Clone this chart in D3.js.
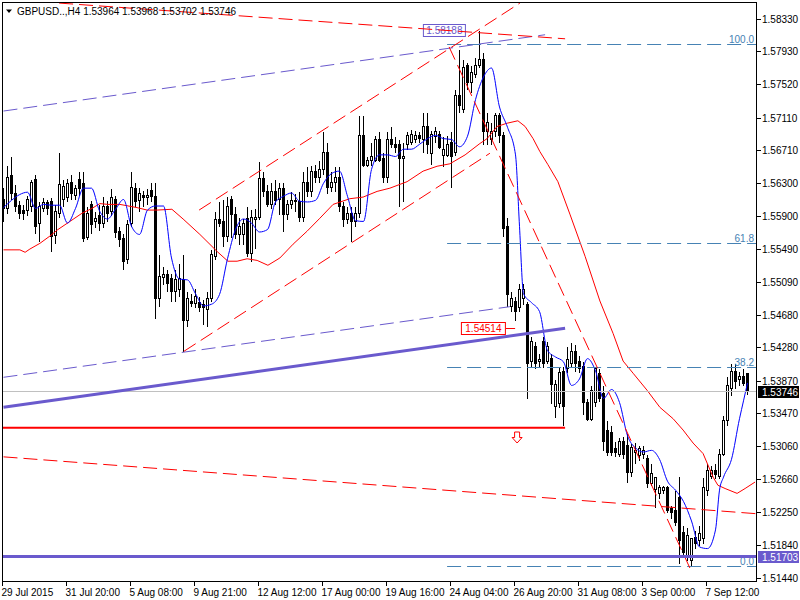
<!DOCTYPE html>
<html><head><meta charset="utf-8">
<script src="https://cdnjs.cloudflare.com/ajax/libs/d3/7.8.5/d3.min.js"></script>
<style>body{margin:0;background:#fff}svg{display:block}text{font-family:"Liberation Sans",Arial,sans-serif}</style>
</head><body><svg id="c" width="800" height="600"></svg>
<script>
const symbolTitle = "GBPUSD..,H4";
const quote = ["1.53964", "1.53968", "1.53702", "1.53746"];
const timeLabels = ["29 Jul 2015","31 Jul 20:00","5 Aug 08:00","9 Aug 21:00","12 Aug 12:00","17 Aug 00:00","19 Aug 16:00","24 Aug 04:00","26 Aug 20:00","31 Aug 08:00","3 Sep 00:00","7 Sep 12:00"];
const timeTickBars = [0,16,32,48,64,80,96,112,128,144,160,176];
const priceTicks = [1.58330,1.57930,1.57520,1.57110,1.56710,1.56300,1.55900,1.55490,1.55090,1.54680,1.54280,1.53870,1.53470,1.53060,1.52660,1.52250,1.51840,1.51440];
// H4 bars: [open, high, low, close]
const ohlc = [
[1.5611,1.5626,1.5583,1.5599],[1.5599,1.5653,1.5593,1.5638],[1.5640,1.5663,1.5611,1.5618],[1.5618,1.5629,1.5596,1.5602],[1.5603,1.5610,1.5587,1.5594],
[1.5597,1.5604,1.5586,1.5594],[1.5597,1.5616,1.5591,1.5611],[1.5602,1.5635,1.5596,1.5632],[1.5635,1.5641,1.5569,1.5577],[1.5581,1.5608,1.5559,1.5602],
[1.5600,1.5613,1.5596,1.5607],[1.5607,1.5611,1.5592,1.5599],[1.5608,1.5613,1.5546,1.5565],[1.5566,1.5604,1.5556,1.5596],[1.5594,1.5669,1.5589,1.5629],
[1.5611,1.5635,1.5602,1.5627],[1.5613,1.5637,1.5608,1.5630],[1.5632,1.5642,1.5611,1.5618],[1.5616,1.5629,1.5611,1.5624],[1.5635,1.5645,1.5616,1.5624],
[1.5630,1.5645,1.5559,1.5562],[1.5564,1.5602,1.5561,1.5593],[1.5605,1.5610,1.5569,1.5580],[1.5583,1.5596,1.5576,1.5587],[1.5591,1.5604,1.5573,1.5581],
[1.5581,1.5614,1.5576,1.5602],[1.5602,1.5610,1.5583,1.5593],[1.5596,1.5624,1.5591,1.5613],[1.5611,1.5616,1.5564,1.5570],[1.5571,1.5577,1.5553,1.5561],
[1.5562,1.5569,1.5524,1.5534],[1.5537,1.5586,1.5532,1.5580],[1.5581,1.5645,1.5577,1.5626],[1.5624,1.5632,1.5602,1.5608],[1.5610,1.5626,1.5596,1.5618],
[1.5616,1.5622,1.5602,1.5613],[1.5613,1.5624,1.5605,1.5616],[1.5622,1.5632,1.5608,1.5614],[1.5614,1.5632,1.5464,1.5489],[1.5489,1.5543,1.5479,1.5516],
[1.5515,1.5528,1.5506,1.5518],[1.5518,1.5524,1.5497,1.5507],[1.5513,1.5519,1.5485,1.5497],[1.5497,1.5524,1.5485,1.5512],[1.5500,1.5532,1.5491,1.5513],
[1.5512,1.5543,1.5424,1.5461],[1.5461,1.5497,1.5454,1.5489],[1.5485,1.5495,1.5479,1.5483],[1.5483,1.5501,1.5477,1.5491],[1.5484,1.5491,1.5473,1.5477],
[1.5481,1.5488,1.5457,1.5477],[1.5475,1.5497,1.5454,1.5489],[1.5489,1.5549,1.5485,1.5543],[1.5540,1.5596,1.5537,1.5586],[1.5586,1.5608,1.5577,1.5581],
[1.5583,1.5611,1.5553,1.5565],[1.5565,1.5614,1.5559,1.5602],[1.5611,1.5616,1.5564,1.5592],[1.5592,1.5602,1.5562,1.5567],[1.5567,1.5589,1.5555,1.5577],
[1.5567,1.5587,1.5555,1.5581],[1.5587,1.5602,1.5540,1.5544],[1.5544,1.5598,1.5534,1.5589],[1.5586,1.5599,1.5550,1.5589],[1.5589,1.5657,1.5586,1.5636],
[1.5636,1.5645,1.5614,1.5620],[1.5620,1.5629,1.5602,1.5605],[1.5605,1.5632,1.5599,1.5620],[1.5620,1.5635,1.5605,1.5610],[1.5611,1.5632,1.5592,1.5624],
[1.5624,1.5632,1.5571,1.5592],[1.5592,1.5611,1.5586,1.5604],[1.5604,1.5620,1.5600,1.5610],[1.5610,1.5618,1.5596,1.5608],[1.5608,1.5620,1.5583,1.5589],
[1.5589,1.5645,1.5583,1.5632],[1.5632,1.5651,1.5614,1.5620],[1.5620,1.5653,1.5614,1.5645],[1.5645,1.5654,1.5632,1.5638],[1.5638,1.5659,1.5632,1.5647],
[1.5647,1.5694,1.5642,1.5669],[1.5669,1.5681,1.5618,1.5626],[1.5626,1.5645,1.5620,1.5632],[1.5632,1.5651,1.5620,1.5638],[1.5638,1.5651,1.5596,1.5602],
[1.5602,1.5608,1.5577,1.5586],[1.5586,1.5602,1.5581,1.5593],[1.5593,1.5602,1.5559,1.5583],[1.5583,1.5602,1.5577,1.5593],[1.5593,1.5714,1.5589,1.5690],
[1.5690,1.5714,1.5651,1.5653],[1.5653,1.5663,1.5651,1.5659],[1.5659,1.5681,1.5653,1.5663],[1.5659,1.5690,1.5657,1.5684],[1.5684,1.5694,1.5657,1.5659],
[1.5661,1.5669,1.5632,1.5638],[1.5638,1.5694,1.5632,1.5684],[1.5685,1.5700,1.5675,1.5679],[1.5679,1.5688,1.5669,1.5675],[1.5678,1.5685,1.5602,1.5661],
[1.5661,1.5681,1.5608,1.5663],[1.5678,1.5694,1.5672,1.5690],[1.5681,1.5697,1.5678,1.5691],[1.5685,1.5696,1.5681,1.5689],[1.5689,1.5694,1.5681,1.5686],
[1.5685,1.5718,1.5669,1.5700],[1.5700,1.5718,1.5667,1.5679],[1.5667,1.5696,1.5654,1.5691],[1.5688,1.5700,1.5681,1.5694],[1.5691,1.5696,1.5673,1.5675],
[1.5665,1.5688,1.5651,1.5672],[1.5665,1.5690,1.5663,1.5679],[1.5681,1.5694,1.5626,1.5663],[1.5669,1.5746,1.5665,1.5739],[1.5739,1.5796,1.5718,1.5727],
[1.5721,1.5783,1.5718,1.5773],[1.5776,1.5780,1.5746,1.5755],[1.5755,1.5776,1.5743,1.5767],[1.5765,1.5786,1.5761,1.5776],[1.5776,1.5819,1.5773,1.5783],
[1.5783,1.5792,1.5678,1.5694],[1.5694,1.5718,1.5678,1.5706],[1.5685,1.5706,1.5678,1.5694],[1.5694,1.5718,1.5688,1.5714],[1.5714,1.5718,1.5681,1.5690],
[1.5690,1.5694,1.5565,1.5575],[1.5577,1.5589,1.5479,1.5494],[1.5479,1.5497,1.5473,1.5489],[1.5485,1.5491,1.5461,1.5473],[1.5477,1.5507,1.5473,1.5500],
[1.5489,1.5507,1.5481,1.5500],[1.5481,1.5485,1.5366,1.5408],[1.5411,1.5442,1.5405,1.5436],[1.5430,1.5436,1.5402,1.5408],[1.5411,1.5421,1.5405,1.5414],
[1.5436,1.5442,1.5404,1.5408],[1.5411,1.5436,1.5409,1.5430],[1.5415,1.5421,1.5359,1.5383],[1.5356,1.5389,1.5342,1.5383],[1.5359,1.5404,1.5354,1.5397],
[1.5399,1.5405,1.5332,1.5356],[1.5402,1.5430,1.5397,1.5414],[1.5409,1.5434,1.5405,1.5424],[1.5424,1.5432,1.5399,1.5409],[1.5411,1.5418,1.5397,1.5403],
[1.5405,1.5411,1.5346,1.5360],[1.5360,1.5365,1.5338,1.5340],[1.5340,1.5381,1.5338,1.5375],[1.5360,1.5405,1.5356,1.5403],[1.5396,1.5403,1.5362,1.5366],
[1.5372,1.5381,1.5301,1.5313],[1.5326,1.5338,1.5295,1.5299],[1.5323,1.5332,1.5295,1.5299],[1.5304,1.5313,1.5294,1.5299],[1.5297,1.5317,1.5294,1.5313],
[1.5313,1.5319,1.5291,1.5297],[1.5307,1.5322,1.5262,1.5274],[1.5274,1.5310,1.5270,1.5305],[1.5299,1.5311,1.5285,1.5302],[1.5295,1.5307,1.5289,1.5304],
[1.5297,1.5307,1.5291,1.5301],[1.5292,1.5297,1.5256,1.5261],[1.5261,1.5285,1.5258,1.5273],[1.5254,1.5270,1.5231,1.5268],[1.5248,1.5259,1.5242,1.5256],
[1.5252,1.5258,1.5248,1.5256],[1.5256,1.5258,1.5225,1.5227],[1.5230,1.5234,1.5218,1.5225],[1.5227,1.5252,1.5209,1.5213],[1.5243,1.5270,1.5162,1.5191],
[1.5200,1.5209,1.5170,1.5176],[1.5170,1.5207,1.5166,1.5197],[1.5166,1.5193,1.5158,1.5193],[1.5194,1.5203,1.5181,1.5187],[1.5191,1.5209,1.5184,1.5199],
[1.5193,1.5268,1.5187,1.5256],[1.5252,1.5286,1.5246,1.5277],[1.5270,1.5283,1.5267,1.5277],[1.5277,1.5286,1.5267,1.5272],[1.5270,1.5304,1.5267,1.5297],
[1.5297,1.5344,1.5295,1.5338],[1.5338,1.5393,1.5332,1.5381],[1.5378,1.5409,1.5369,1.5399],[1.5399,1.5408,1.5378,1.5387],[1.5389,1.5399,1.5381,1.5393],
[1.5393,1.5402,1.5381,1.5384],[1.53964,1.53968,1.53702,1.53746]
];
// fast moving average (blue): [bar, price]
const fastMA = [[0,1.5600],[2,1.5609],[4,1.5616],[6,1.5619],[8,1.5599],[10,1.5604],[12,1.5603],[14,1.5603],[16,1.5581],[18,1.5599],[20,1.5624],[22,1.5624],[24,1.5596],[26,1.5586],[28,1.5598],[30,1.5610],[32,1.5577],[34,1.5567],[36,1.5597],[38,1.5602],[40,1.5602],[42,1.5538],[44,1.5512],[46,1.5511],[48,1.5494],[50,1.5479],[52,1.5481],[54,1.5493],[56,1.5537],[58,1.5573],[60,1.5586],[62,1.5581],[64,1.5570],[66,1.5573],[68,1.5607],[70,1.5614],[72,1.5618],[74,1.5608],[76,1.5607],[78,1.5609],[80,1.5630],[82,1.5642],[84,1.5645],[86,1.5614],[88,1.5584],[90,1.5583],[92,1.5647],[94,1.5665],[96,1.5665],[98,1.5663],[100,1.5672],[102,1.5672],[104,1.5678],[106,1.5685],[108,1.5689],[110,1.5685],[112,1.5684],[114,1.5675],[116,1.5688],[118,1.5733],[120,1.5761],[122,1.5772],[124,1.5724],[126,1.5699],[128,1.5665],[129,1.5577],[130,1.5494],[132,1.5483],[134,1.5472],[136,1.5424],[138,1.5416],[140,1.5410],[142,1.5381],[144,1.5389],[146,1.5414],[148,1.5399],[150,1.5365],[152,1.5376],[154,1.5360],[156,1.5319],[158,1.5304],[160,1.5299],[162,1.5301],[164,1.5290],[166,1.5263],[168,1.5252],[170,1.5238],[172,1.5214],[174,1.5182],[176,1.5180],[178,1.5203],[179,1.5252],[180,1.5268],[182,1.5290],[184,1.5340],[185,1.5362],[186,1.5384]];
// slow moving average (red): [bar, price]
const slowMA = [[0,1.5548],[4.1,1.5548],[5.4,1.5545],[6.6,1.5549],[9.1,1.5556],[11.6,1.5565],[13.6,1.5573],[16.6,1.5583],[19.6,1.5593],[22.1,1.5599],[24.1,1.5605],[26.1,1.5604],[29.1,1.5604],[33.4,1.5600],[35.9,1.5597],[38.4,1.5597],[42.1,1.5598],[44.9,1.5586],[49.1,1.5567],[53.4,1.5546],[56.1,1.5534],[58.4,1.5534],[60.9,1.5537],[63.4,1.5535],[66.1,1.5529],[69.1,1.5538],[72.4,1.5555],[75.9,1.5571],[79.1,1.5587],[82.4,1.5604],[86.6,1.5611],[89.9,1.5613],[93.4,1.5620],[96.6,1.5624],[100.9,1.5632],[104.9,1.5645],[108.4,1.5651],[111.6,1.5654],[115.4,1.5665],[119.1,1.5679],[120.9,1.5685],[123.4,1.5700],[125.9,1.5704],[128.6,1.5707],[130.4,1.5700],[132.4,1.5685],[134.1,1.5669],[136.1,1.5653],[138.6,1.5632],[141.6,1.5592],[145.4,1.5540],[149.1,1.5485],[152.4,1.5445],[154.9,1.5411],[157.4,1.5396],[160.9,1.5375],[164.1,1.5354],[167.4,1.5340],[169.9,1.5326],[172.4,1.5310],[174.9,1.5297],[177.4,1.5268],[178.6,1.5258],[180.4,1.5254],[183.4,1.5248],[185.4,1.5254],[187.9,1.5262]];
// drawn objects: [bar1, price1, bar2, price2]
const redDashedLines = [[13.9,1.5852,140.4,1.5808],[48.9,1.5597,129.1,1.5852],[45.1,1.5423,121.6,1.5667],[0,1.5293,188.1,1.5223],[111.4,1.5798,171.6,1.5156]];
const purpleDashedLines = [[0,1.5719,135.4,1.5813],[0,1.5391,126.6,1.5478]];
const purpleTrendLine = [0,1.5354,140.4,1.54514];
const redLevel = [0,140.4,1.5329];
const supportLevel = 1.51703;
const lastPrice = 1.53746;
const fibLow = 1.5158, fibHigh = 1.5802, fibStartBar = 110.9;
const fibLevels = [0, 38.2, 61.8, 100];
const highLabel = {bar:115.6, price:1.58188, text:"1.58188"};
const trendLabel = {bar:125.6, price:1.54514, text:"1.54514", toBar:127.9};
const arrowMark = {bar:128.4, price:1.5324};

const svg = d3.select("#c");
const L = 2.5, T = 2.5, R = 756.5, B = 581.5;
const x = d3.scaleLinear().domain([0, 186]).range([3.5, 747.5]);
const y = d3.scaleLinear().domain([1.5144, 1.5833]).range([577.8, 18.5]);

svg.append("defs").append("clipPath").attr("id","clip").append("rect")
  .attr("x",L+0.5).attr("y",T+0.5).attr("width",R-L-1).attr("height",B-T-1);
const plot = svg.append("g").attr("clip-path","url(#clip)");

// candles
const cg = plot.append("g").attr("shape-rendering","crispEdges");
ohlc.forEach((d,i)=>{
  const cx = Math.floor(x(i))+0.5;
  cg.append("line").attr("x1",cx).attr("x2",cx)
    .attr("y1",Math.round(y(d[1]))+0.5).attr("y2",Math.round(y(d[2]))+0.5)
    .attr("stroke","#000");
  const yt = Math.round(y(Math.max(d[0],d[3])))+0.5, yb = Math.round(y(Math.min(d[0],d[3])))+0.5;
  cg.append("path").attr("d",`M${cx-1},${yt}H${cx+1}V${yb}H${cx-1}Z`)
    .attr("fill", d[3] < d[0] ? "#000" : "#fff").attr("stroke","#000");
});

// moving averages
plot.append("path").datum(slowMA).attr("fill","none").attr("stroke","#ff0000").attr("stroke-width",1)
  .attr("d", d3.line().x(d=>x(d[0])).y(d=>y(d[1])));
plot.append("path").datum(fastMA).attr("fill","none").attr("stroke","#0000ff").attr("stroke-width",1)
  .attr("d", d3.line().curve(d3.curveMonotoneX).x(d=>x(d[0])).y(d=>y(d[1])));

// objects
const seg = (g, d) => g.append("line").attr("x1",x(d[0])).attr("y1",y(d[1])).attr("x2",x(d[2])).attr("y2",y(d[3]));

// high price label (under lines)
{
  const xr = x(highLabel.bar), yc = y(highLabel.price);
  plot.append("rect").attr("x",xr-42.5).attr("y",Math.round(yc)-5.5).attr("width",42).attr("height",12)
    .attr("fill","#fff").attr("stroke","#6a5acd");
  plot.append("text").attr("x",xr-21.5).attr("y",Math.round(yc)+4).attr("text-anchor","middle")
    .attr("font-size",10).attr("fill","#6a5acd").text(highLabel.text);
}

fibLevels.forEach(lv=>{
  const yy = Math.round(y(fibLow + lv/100*(fibHigh-fibLow)))+0.5;
  plot.append("line").attr("x1",x(fibStartBar)).attr("x2",R).attr("y1",yy).attr("y2",yy)
    .attr("stroke","#4682b4").attr("stroke-dasharray","14,6");
  plot.append("text").attr("x",754).attr("y",yy-2).attr("text-anchor","end").attr("font-size",10)
    .attr("fill","#4682b4").text(lv.toFixed(1));
});

// grey last price line
plot.append("line").attr("x1",L).attr("x2",R).attr("y1",Math.round(y(lastPrice))+0.5).attr("y2",Math.round(y(lastPrice))+0.5)
  .attr("stroke","#c0c0c0");

purpleDashedLines.forEach(d=>seg(plot,d).attr("stroke","#6a5acd").attr("stroke-dasharray","14,6"));
seg(plot,purpleTrendLine).attr("stroke","#6a5acd").attr("stroke-width",3);
redDashedLines.forEach(d=>seg(plot,d).attr("stroke","#ff0000").attr("stroke-dasharray","14,6"));

// red horizontal level
plot.append("line").attr("x1",x(redLevel[0])-1).attr("x2",x(redLevel[1])).attr("y1",y(redLevel[2])).attr("y2",y(redLevel[2]))
  .attr("stroke","#ff0000").attr("stroke-width",2);

// support level
plot.append("line").attr("x1",L).attr("x2",R).attr("y1",y(supportLevel)).attr("y2",y(supportLevel))
  .attr("stroke","#6a5acd").attr("stroke-width",3);

// trend label 1.54514
{
  const xr = x(trendLabel.bar), yc = Math.round(y(trendLabel.price));
  plot.append("line").attr("x1",xr).attr("x2",x(trendLabel.toBar)).attr("y1",yc+0.5).attr("y2",yc+0.5).attr("stroke","#ff0000");
  plot.append("rect").attr("x",xr-44.5).attr("y",yc-5.5).attr("width",44).attr("height",12)
    .attr("fill","#fff").attr("stroke","#ff0000");
  plot.append("text").attr("x",xr-22.5).attr("y",yc+4).attr("text-anchor","middle")
    .attr("font-size",10).attr("fill","#ff0000").text(trendLabel.text);
}

// down arrow
{
  const ax = x(arrowMark.bar), ay = Math.round(y(arrowMark.price));
  plot.append("path").attr("d",`M${ax-2.5},${ay}H${ax+2.5}V${ay+5.5}H${ax+5}L${ax},${ay+11}L${ax-5},${ay+5.5}H${ax-2.5}Z`)
    .attr("fill","#fff").attr("stroke","#ff0000");
}

// frame
svg.append("rect").attr("x",L).attr("y",T).attr("width",R-L).attr("height",B-T)
  .attr("fill","none").attr("stroke","#000").attr("shape-rendering","crispEdges");

// price axis
const ax = svg.append("g").attr("shape-rendering","crispEdges");
priceTicks.forEach(p=>{
  const yy = Math.round(y(p))+0.5;
  ax.append("line").attr("x1",R).attr("x2",R+4).attr("y1",yy).attr("y2",yy).attr("stroke","#000");
  ax.append("text").attr("x",762).attr("y",yy+3.5).attr("font-size",10).attr("fill","#000").text(d3.format(".5f")(p));
});
// price boxes
[[lastPrice,"#000"],[supportLevel,"#6a5acd"]].forEach(([p,c])=>{
  const yy = Math.round(y(p));
  svg.append("rect").attr("x",758).attr("y",yy-5).attr("width",41).attr("height",12).attr("fill",c);
  svg.append("text").attr("x",762).attr("y",yy+5).attr("font-size",10).attr("fill","#fff").text(d3.format(".5f")(p));
});

// time axis
timeTickBars.forEach((b,k)=>{
  const xx = Math.floor(x(b))-0.5;
  ax.append("line").attr("x1",xx).attr("x2",xx).attr("y1",B).attr("y2",B+4).attr("stroke","#000");
  svg.append("text").attr("x",xx-1).attr("y",596).attr("font-size",10).attr("fill","#000").text(timeLabels[k]);
});

// title
svg.append("path").attr("d","M6,9.5H12L9,13Z").attr("fill","#000");
svg.append("text").attr("x",17).attr("y",14.5).attr("font-size",10).attr("fill","#000")
  .text(symbolTitle + "  " + quote.join(" "));
</script></body></html>
